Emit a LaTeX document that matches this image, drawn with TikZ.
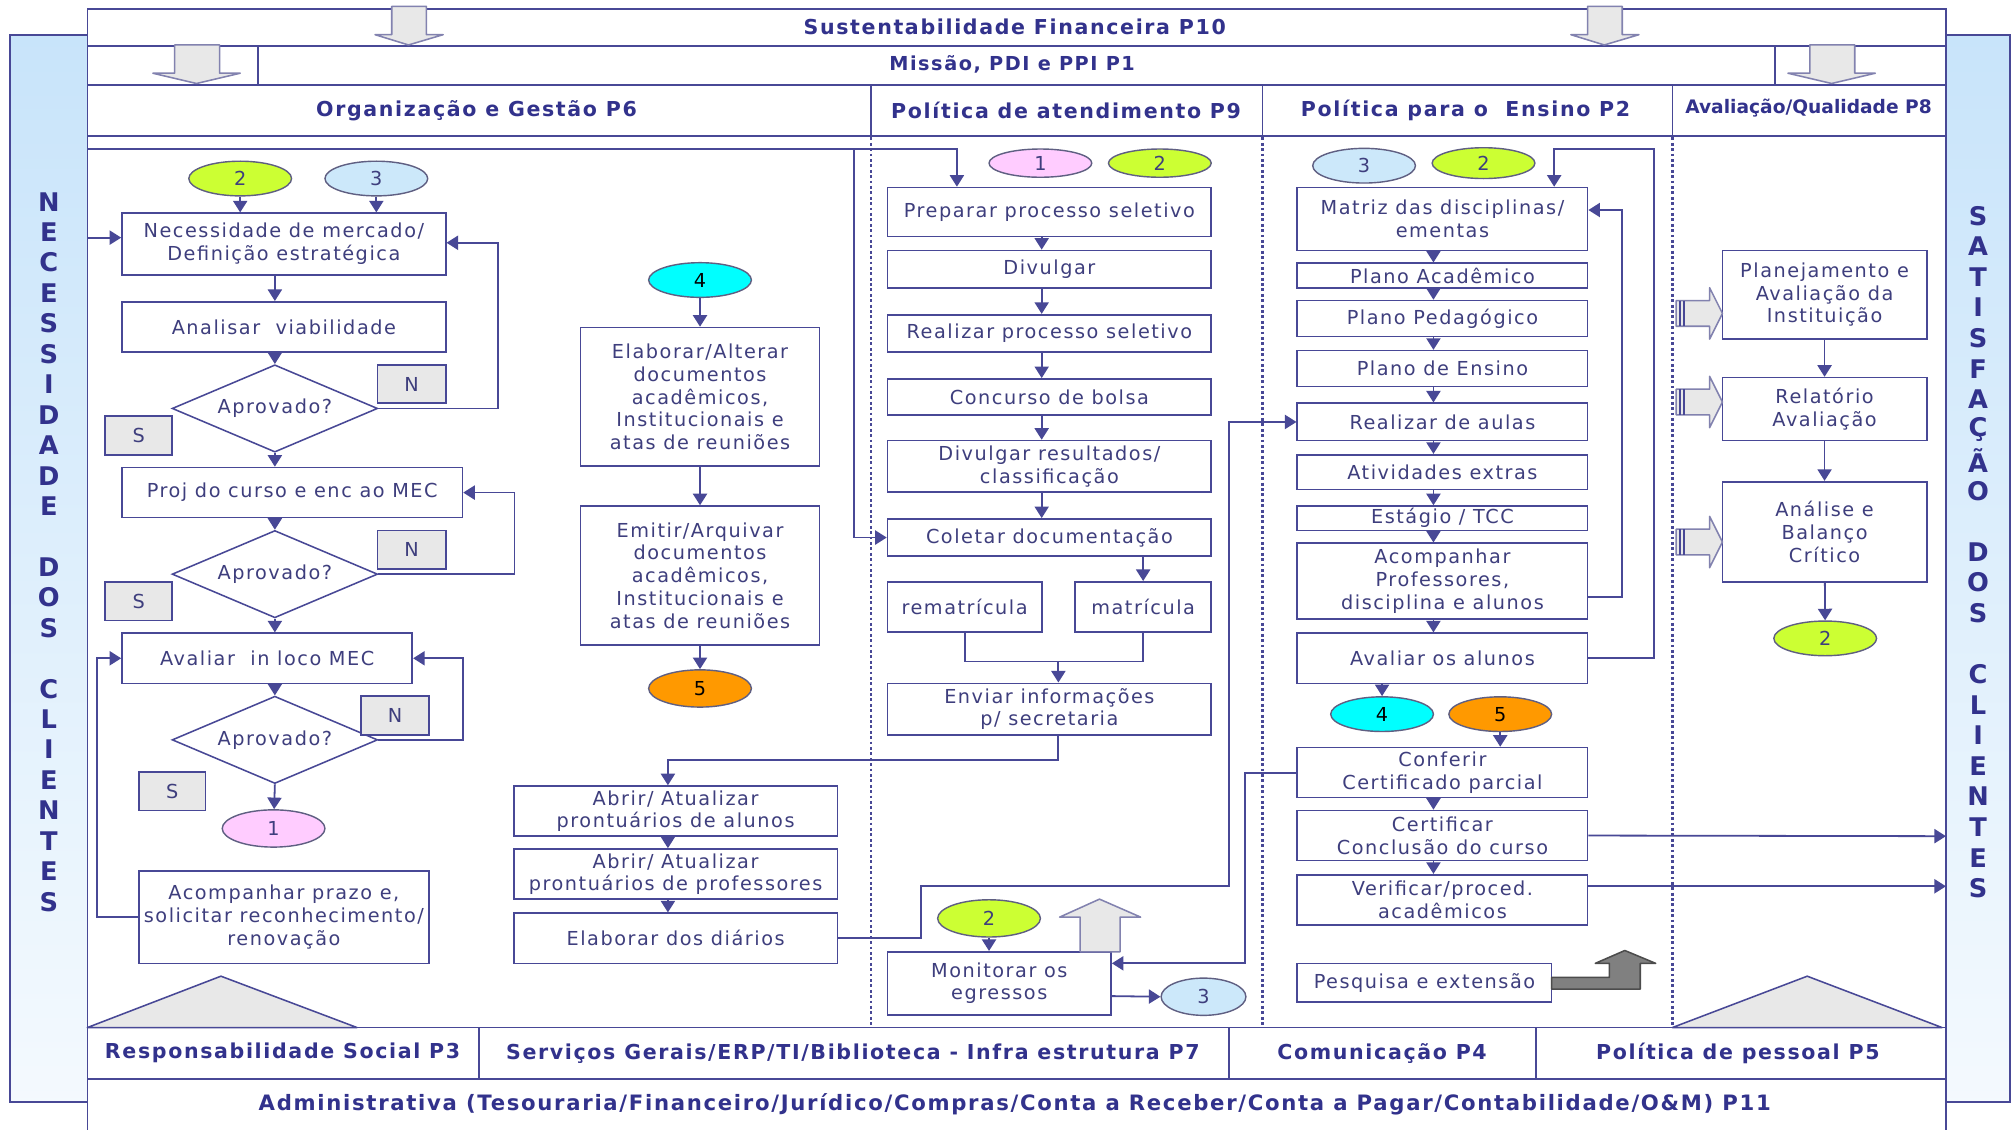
\documentclass[tikz,border=0pt]{standalone}
\usepackage{fontspec}
\setmainfont{DejaVu Sans}
\newfontfamily\bxf[LetterSpace=8]{DejaVu Sans}
\newfontfamily\hdf[LetterSpace=8]{DejaVu Sans}
\usetikzlibrary{shapes.geometric,arrows.meta,calc}
\definecolor{lc}{RGB}{72,72,150}
\definecolor{tc}{RGB}{62,62,125}
\definecolor{hc}{RGB}{50,50,140}
\definecolor{gfill}{RGB}{232,232,232}
\definecolor{gline}{RGB}{130,130,175}
\definecolor{cgreen}{RGB}{204,255,51}
\definecolor{cblue}{RGB}{204,232,250}
\definecolor{cpink}{RGB}{255,204,255}
\definecolor{ccyan}{RGB}{0,255,255}
\definecolor{corange}{RGB}{255,153,0}
\definecolor{barblue}{RGB}{200,228,250}
\definecolor{ellc}{RGB}{95,95,130}
\newcommand\bxfont{\bxf\fontsize{15}{17.7}\selectfont}
\newcommand\hfont{\hdf\bfseries\fontsize{16}{19}\selectfont}
\tikzset{
  ln/.style={draw=lc, line width=1.4pt},
  arr/.style={ln, -{Triangle[length=9pt,width=11pt]}},
  box/.style={draw=lc, line width=1.3pt, fill=white, text=tc, font=\bxfont, align=center, inner sep=0pt},
  lbl/.style={box, fill=gfill},
  dia/.style={diamond, draw=lc, line width=1.2pt, fill=white, text=tc, font=\bxfont, aspect=2.35, minimum width=160pt, minimum height=68pt, inner sep=0pt},
  ell/.style={ellipse, draw=ellc, line width=1.1pt, minimum width=80pt, minimum height=27pt, inner sep=0pt, text=tc, font=\bxf\fontsize{15}{17}\selectfont},
  hdr/.style={text=hc, font=\hfont, inner sep=0pt},
  barl/.style={text=hc, font=\hdf\bfseries\fontsize{20}{22}\selectfont, inner sep=0pt},
  blk/.style={fill=gfill, draw=gline, line width=1.2pt, line join=round},
  dotl/.style={draw=lc, line width=2pt, dash pattern=on 2.2pt off 2pt},
  frm/.style={draw=lc, line width=1.3pt},
}
\newcommand\bx[7][box]{%
  \pgfmathsetmacro\bw{#5-#3}\pgfmathsetmacro\bh{#6-#4}%
  \pgfmathsetmacro\bcx{(#3+#5)/2}\pgfmathsetmacro\bcy{(#4+#6)/2}%
  \node[#1,minimum width=\bw pt,minimum height=\bh pt] (#2) at (\bcx,\bcy) {#7};}
\begin{document}
\begin{tikzpicture}[x=1pt,y=-1pt]
\useasboundingbox (0,0) rectangle (1568,879);
\fill[white] (0,0) rectangle (1568,879);
% side bars
\draw[frm, top color=barblue, bottom color=barblue!20!white] (8,27) rectangle (68,858);
\draw[frm, top color=barblue, bottom color=barblue!20!white] (1515,27) rectangle (1565,858);
\foreach \i/\ch in {0/N,1/E,2/C,3/E,4/S,5/S,6/I,7/D,8/A,9/D,10/E,12/D,13/O,14/S,16/C,17/L,18/I,19/E,20/N,21/T,22/E,23/S}
  \node[barl] (nl\i) at (38,{157+\i*23.7}) {\ch};
\foreach \i/\ch in {0/S,1/A,2/T,3/I,4/S,5/F,6/A,7/Ç,8/Ã,9/O,11/D,12/O,13/S,15/C,16/L,17/I,18/E,19/N,20/T,21/E,22/S}
  \node[barl] (nr\i) at (1540,{168+\i*23.8}) {\ch};
% main frame
\draw[frm, fill=white] (68,7) rectangle (1515,890);
\draw[frm] (68,36) -- (1515,36);
\draw[frm] (68,66) -- (1515,66);
\draw[frm] (68,106) -- (1515,106);
\draw[frm] (201,36) -- (201,66);
\draw[frm] (1382,36) -- (1382,66);
\draw[frm] (678,66) -- (678,106);
\draw[frm] (983,66) -- (983,106);
\draw[frm] (1302,66) -- (1302,106);
\draw[frm] (68,800) -- (1515,800);
\draw[frm] (68,840) -- (1515,840);
\draw[frm] (373,800) -- (373,840);
\draw[frm] (957,800) -- (957,840);
\draw[frm] (1196,800) -- (1196,840);
% header texts
\node[hdr] (h10) at (790,21) {Sustentabilidade Financeira P10};
\node[hdr, font=\hdf\bfseries\fontsize{15}{17}\selectfont] (h1) at (788,50) {Missão, PDI e PPI P1};
\node[hdr] (h6) at (371,86) {Organização e Gestão P6};
\node[hdr] (h9) at (830,86) {Política de atendimento P9};
\node[hdr] (h2) at (1141,86) {Política para o~ Ensino P2};
\node[hdr, font=\bfseries\fontsize{14.5}{16}\selectfont] (h8) at (1408,84) {Avaliação/Qualidade P8};
\node[hdr] (p3) at (220,820) {Responsabilidade Social P3};
\node[hdr] (p7) at (664,820) {Serviços Gerais/ERP/TI/Biblioteca - Infra estrutura P7};
\node[hdr] (p4) at (1076,820) {Comunicação P4};
\node[hdr] (p5) at (1353,820) {Política de pessoal P5};
\node[hdr, font=\hdf\bfseries\fontsize{16.5}{19}\selectfont] (p11) at (790,860) {Administrativa (Tesouraria/Financeiro/Jurídico/Compras/Conta a Receber/Conta a Pagar/Contabilidade/O\&M) P11};
% top block arrows
\draw[blk] (305,5) -- (332,5) -- (332,27) -- (345,27) -- (318,35) -- (292,27) -- (305,27) -- cycle;
\draw[blk] (1236,5) -- (1263,5) -- (1263,27) -- (1276,27) -- (1249,35) -- (1223,27) -- (1236,27) -- cycle;
\draw[blk] (136,35) -- (171,35) -- (171,57) -- (187,57) -- (153,65) -- (119,57) -- (136,57) -- cycle;
\draw[blk] (1409,35) -- (1444,35) -- (1444,57) -- (1460,57) -- (1426,65) -- (1392,57) -- (1409,57) -- cycle;
% dotted separators
\draw[dotl] (678,107) -- (678,799);
\draw[dotl] (983,107) -- (983,799);
\draw[dotl] (1302,107) -- (1302,799);
% triangles
\draw[blk, draw=lc] (68,800) -- (172,760) -- (278,800) -- cycle;
\draw[blk, draw=lc] (1302,800) -- (1407,760) -- (1512,800) -- cycle;

% ===== Organização column
\node[ell, fill=cgreen] (e2a) at (187,139) {2};
\node[ell, fill=cblue] (e3a) at (293,139) {3};
\bx{nec}{95}{166}{347}{214}{Necessidade de mercado/\\Definição estratégica}
\bx{ana}{95}{235}{347}{274}{Analisar~ viabilidade}
\node[dia] (d1) at (214,318) {Aprovado?};
\bx[lbl]{n1}{294}{284}{347}{314}{N}
\bx[lbl]{s1}{82}{324}{134}{354}{S}
\bx{proj}{95}{364}{360}{403}{Proj do curso e enc ao MEC}
\node[dia] (d2) at (214,447) {Aprovado?};
\bx[lbl]{n2}{294}{413}{347}{443}{N}
\bx[lbl]{s2}{82}{453}{134}{483}{S}
\bx{aval}{95}{493}{321}{532}{Avaliar~ in loco MEC}
\node[dia] (d3) at (214,576) {Aprovado?};
\bx[lbl]{n3}{281}{542}{334}{572}{N}
\bx[lbl]{s3}{108}{601}{160}{631}{S}
\node[ell, fill=cpink, minimum height=29pt] (e1a) at (213,645) {1};
\bx{acom}{108}{678}{334}{750}{Acompanhar prazo e,\\solicitar reconhecimento/\\renovação}

\node[ell, fill=ccyan, text=black] (e4a) at (545,218) {4};
\bx{elab}{452}{255}{638}{363}{Elaborar/Alterar\\documentos\\acadêmicos,\\Institucionais e\\atas de reuniões}
\bx{emit}{452}{394}{638}{502}{Emitir/Arquivar\\documentos\\acadêmicos,\\Institucionais e\\atas de reuniões}
\node[ell, fill=corange, text=black, minimum height=29pt] (e5a) at (545,536) {5};
\bx{pral}{400}{612}{652}{651}{Abrir/ Atualizar\\prontuários de alunos}
\bx{prpr}{400}{661}{652}{700}{Abrir/ Atualizar\\prontuários de professores}
\bx{diar}{400}{711}{652}{750}{Elaborar dos diários}

% ===== Atendimento column
\node[ell, fill=cpink, minimum height=22pt] (e1b) at (810,127) {1};
\node[ell, fill=cgreen, minimum height=22pt] (e2b) at (903,127) {2};
\bx{prep}{691}{146}{943}{184}{Preparar processo seletivo}
\bx{divu}{691}{195}{943}{224}{Divulgar}
\bx{real}{691}{245}{943}{274}{Realizar processo seletivo}
\bx{conc}{691}{295}{943}{323}{Concurso de bolsa}
\bx{dres}{691}{343}{943}{383}{Divulgar resultados/\\classificação}
\bx{colt}{691}{404}{943}{433}{Coletar documentação}
\bx{remat}{691}{453}{811}{492}{rematrícula}
\bx{mat}{837}{453}{943}{492}{matrícula}
\bx{envi}{691}{532}{943}{572}{Enviar informações\\p/ secretaria}
\node[ell, fill=cgreen, minimum height=29pt] (e2c) at (770,715) {2};
\bx{moni}{691}{741}{865}{790}{Monitorar os\\egressos}
\node[ell, fill=cblue, minimum width=66pt, minimum height=29pt] (e3c) at (937,776) {3};
\draw[blk] (841,741) -- (841,714) -- (825,714) -- (856,700) -- (888,714) -- (872,714) -- (872,741) -- cycle;

% ===== Ensino column
\node[ell, fill=cblue] (e3d) at (1062,129) {3};
\node[ell, fill=cgreen, minimum height=24pt] (e2d) at (1155,127) {2};
\bx{matr}{1010}{146}{1236}{195}{Matriz das disciplinas/\\ementas}
\bx{pac}{1010}{205}{1236}{224}{Plano Acadêmico}
\bx{ppe}{1010}{234}{1236}{262}{Plano Pedagógico}
\bx{pen}{1010}{273}{1236}{301}{Plano de Ensino}
\bx{rau}{1010}{314}{1236}{343}{Realizar de aulas}
\bx{atv}{1010}{354}{1236}{381}{Atividades extras}
\bx{est}{1010}{394}{1236}{413}{Estágio / TCC}
\bx{acp}{1010}{423}{1236}{482}{Acompanhar\\Professores,\\disciplina e alunos}
\bx{ava}{1010}{493}{1236}{532}{Avaliar os alunos}
\node[ell, fill=ccyan, text=black] (e4b) at (1076,556) {4};
\node[ell, fill=corange, text=black] (e5b) at (1168,556) {5};
\bx{conf}{1010}{582}{1236}{621}{Conferir\\Certificado parcial}
\bx{cert}{1010}{631}{1236}{670}{Certificar\\Conclusão do curso}
\bx{veri}{1010}{681}{1236}{720}{Verificar/proced.\\acadêmicos}
\bx{pesq}{1010}{750}{1208}{780}{Pesquisa e extensão}
\draw[fill=gray, draw=black!70, line width=1.2pt, line join=round] (1208,761) -- (1253,761) -- (1253,750) -- (1242,750) -- (1265,740) -- (1289,750) -- (1277,750) -- (1277,770) -- (1208,770) -- cycle;

% ===== Avaliação column
\bx{plan}{1341}{195}{1500}{264}{Planejamento e\\Avaliação da\\Instituição}
\bx{rel}{1341}{294}{1500}{343}{Relatório\\Avaliação}
\bx{anl}{1341}{375}{1500}{453}{Análise e\\Balanço\\Crítico}
\node[ell, fill=cgreen] (e2e) at (1421,497) {2};
\foreach \yy in {244,313,422}{
  \draw[blk] (1305,\yy-10) -- (1331,\yy-10) -- (1331,\yy-20) -- (1341,\yy) -- (1331,\yy+20) -- (1331,\yy+10) -- (1305,\yy+10) -- cycle;
  \draw[draw=lc, line width=1pt] (1308,\yy-10) -- (1308,\yy+10) (1311,\yy-10) -- (1311,\yy+10);
}

% ===== connectors
\coordinate (topL) at (68,116);
\coordinate (necL) at (68,185);
\draw[arr] (topL) -| ([xshift=-72pt]prep.north);
\draw[arr] (665,116) |- (colt.west);
\draw[arr] (necL) -- (nec.west |- necL);
\draw[arr] (e2a) -- (e2a |- nec.north);
\draw[arr] (e3a) -- (e3a |- nec.north);
\draw[arr] (d1.north |- nec.south) -- (d1.north |- ana.north);
\draw[arr] (d1.north |- ana.south) -- (d1.north);
\draw[arr] (d1.east) -- ++(93,0) |- ([yshift=1pt]nec.east);
\draw[arr] (d1.south) -- (d1.south |- proj.north);
\draw[arr] (d2.north |- proj.south) -- (d2.north);
\draw[arr] (d2.east) -- ++(106,0) |- (proj.east);
\draw[arr] (d2.south) -- (d2.south |- aval.north);
\draw[arr] (d3.north |- aval.south) -- (d3.north);
\draw[arr] (d3.east) -- ++(66,0) |- (aval.east);
\draw[arr] (d3.south) -- (e1a);
\draw[arr] (acom.west) -- ++(-32,0) |- (aval.west);

\draw[arr] (e4a) -- (elab);
\draw[arr] (elab) -- (emit);
\draw[arr] (emit) -- (e5a);
\draw[arr] ([xshift=7pt]envi.south) -- ++(0,19) -| ([xshift=-6pt]pral.north);
\draw[arr] ([xshift=-6pt]pral.south) -- ([xshift=-6pt]prpr.north);
\draw[arr] ([xshift=-6pt]prpr.south) -- ([xshift=-6pt]diar.north);
\draw[arr] (diar.east) -| (717,690) -| (957,400) |- (rau.west);

\foreach \a/\b in {prep/divu,divu/real,real/conc,conc/dres,dres/colt}
  \draw[arr] ([xshift=-6pt]\a.south) -- ([xshift=-6pt]\b.north);
\draw[arr] (mat.north |- colt.south) -- (mat.north);
\coordinate (jn) at (824,515);
\draw[ln] (remat.south) |- (jn) -| (mat.south);
\draw[arr] (jn) -- (jn |- envi.north);
\draw[arr] (e2c) -- (e2c |- moni.north);
\draw[arr] ([yshift=-10pt]moni.east) -- (e3c.west);
\draw[arr] (conf.west) -- ++(-40,0) |- ([yshift=15.5pt]moni.east);

\foreach \a/\b in {matr/pac,pac/ppe,ppe/pen,pen/rau,rau/atv,atv/est,est/acp,acp/ava,conf/cert,cert/veri}
  \draw[arr] ([xshift=-7pt]\a.south) -- ([xshift=-7pt]\b.north);
\draw[arr] ([yshift=-12pt]acp.east) -- ++(26,0) |- ([yshift=7pt]matr.east);
\coordinate (lp) at (1288,116);
\draw[arr] (ava.east) -| (lp) -| ([xshift=87pt]matr.north);
\draw[arr] (e4b |- ava.south) -- (e4b);
\draw[arr] (e5b) -- (e5b |- conf.north);
\coordinate (rc1) at (1515,651);
\coordinate (rc2) at (1515,690);
\draw[arr] (cert.east) -- (rc1);
\draw[arr] ([yshift=10.5pt]veri.east) -- (rc2);

\draw[arr] (plan) -- (rel);
\draw[arr] (rel) -- (anl);
\draw[arr] (anl) -- (e2e);
\end{tikzpicture}
\end{document}
